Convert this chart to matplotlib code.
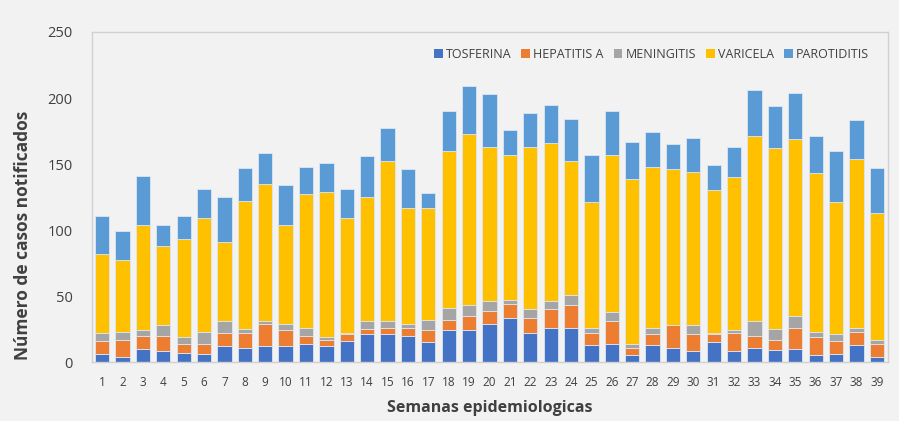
import matplotlib.pyplot as plt
import numpy as np
from matplotlib.patches import Patch

WEEKS = list(range(1, 40))

TOSFERINA = [6, 4, 10, 8, 7, 6, 12, 11, 12, 12, 14, 12, 16, 21, 21, 20, 15, 24, 24, 29,
             33, 22, 26, 26, 13, 14, 5, 13, 11, 8, 15, 8, 11, 9, 10, 5, 6, 13, 4]
HEPATITIS_A = [10, 13, 10, 12, 7, 8, 10, 11, 17, 12, 6, 5, 5, 4, 5, 6, 9, 8, 11, 10,
               11, 11, 14, 17, 9, 17, 6, 8, 17, 13, 6, 14, 9, 8, 16, 14, 10, 10, 10]
MENINGITIS = [6, 6, 4, 8, 5, 9, 9, 3, 2, 5, 6, 2, 1, 6, 5, 3, 8, 9, 8, 7,
              3, 7, 6, 8, 4, 7, 3, 5, 0, 7, 1, 2, 11, 8, 9, 4, 5, 3, 3]
VARICELA = [60, 54, 80, 60, 74, 86, 60, 97, 104, 75, 101, 110, 87, 94, 121, 88, 85, 119, 130, 117,
            110, 123, 120, 101, 95, 119, 125, 122, 118, 116, 108, 116, 140, 137, 134, 120, 100, 128, 96]
PAROTIDITIS = [29, 22, 37, 16, 18, 22, 34, 25, 23, 30, 21, 22, 22, 31, 25, 29, 11, 30, 36, 40,
               19, 26, 29, 32, 36, 33, 28, 26, 19, 26, 19, 23, 35, 32, 35, 28, 39, 29, 34]

SERIES = [
    ("TOSFERINA", TOSFERINA, "#4472C4"),
    ("HEPATITIS A", HEPATITIS_A, "#ED7D31"),
    ("MENINGITIS", MENINGITIS, "#A5A5A5"),
    ("VARICELA", VARICELA, "#FFC000"),
    ("PAROTIDITIS", PAROTIDITIS, "#5B9BD5"),
]

BG = "#F2F2F2"
TEXT = "#404040"

plt.rcParams["font.family"] = ["Open Sans", "DejaVu Sans"]

fig = plt.figure(figsize=(8.99, 4.21), dpi=100)
fig.patch.set_facecolor(BG)
ax = fig.add_axes([0.1023, 0.140, 0.8855, 0.784])
ax.set_facecolor(BG)

x = np.array(WEEKS)
bottom = np.zeros(len(WEEKS))
handles = []
for name, values, color in SERIES:
    vals = np.array(values, dtype=float)
    ax.bar(x, vals, width=0.7, bottom=bottom, color=color,
           edgecolor="#DCE6F2", linewidth=0.6, zorder=2)
    bottom += vals
    handles.append(Patch(facecolor=color, label=name))

ax.set_xlim(0.5, 39.55)
ax.set_ylim(0, 250)
ax.set_yticks(range(0, 251, 50))
ax.set_xticks(x)
ax.set_xticklabels([str(w) for w in WEEKS], fontsize=8.5, color=TEXT)
ax.tick_params(axis="y", labelsize=10.5, colors=TEXT, length=0, pad=14)
ax.tick_params(axis="x", length=0, pad=10)
for side in ["left", "right", "top", "bottom"]:
    ax.spines[side].set_color("#D0D0D0")
    ax.spines[side].set_linewidth(1.0)

ax.set_xlabel("Semanas epidemiologicas", fontsize=11.5, fontweight="bold",
              color=TEXT, labelpad=8)
ax.set_ylabel("Número de casos notificados", fontsize=12.5, fontweight="bold",
              color=TEXT)
ax.yaxis.set_label_coords(-0.075, 0.385)

ax.legend(handles=handles, loc="upper right", bbox_to_anchor=(0.99, 0.985), ncol=5,
          frameon=False, fontsize=9, handlelength=0.7, handleheight=0.7,
          handletextpad=0.25, columnspacing=0.8, labelcolor=TEXT)

fig.savefig("out.png", dpi=100, facecolor=BG)
